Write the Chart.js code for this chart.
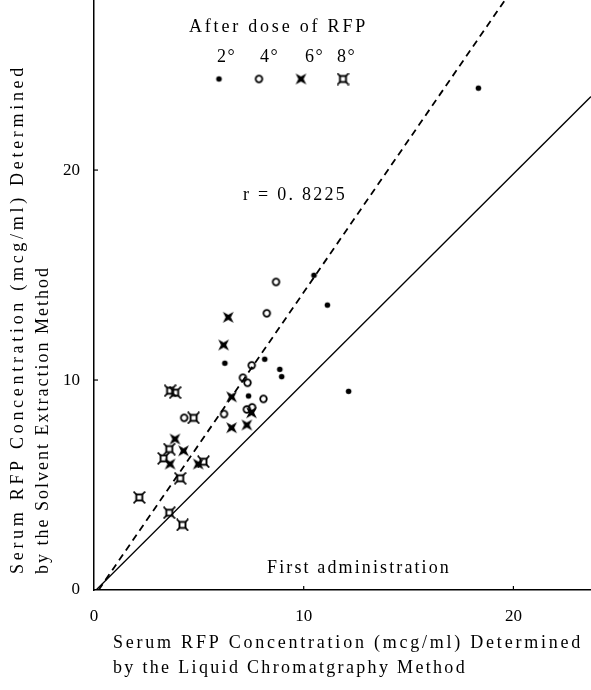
<!DOCTYPE html>
<html>
<head>
<meta charset="utf-8">
<script src="https://cdn.jsdelivr.net/npm/chart.js@4/dist/chart.umd.min.js"></script>
<style>
  body { margin: 0; background: #fff; }
  canvas { display: block; }
</style>
</head>
<body>
<canvas id="grafico" width="591" height="690"></canvas>
<script>
// valori
const dose2X = [18.33, 10.49, 11.13, 6.24, 8.14, 8.86, 8.95, 7.37, 12.14];
const dose2Y = [23.9, 14.99, 13.57, 10.8, 10.99, 10.51, 10.16, 9.24, 9.46];
const dose4X = [8.68, 8.24, 7.52, 7.10, 7.32, 8.08, 7.29, 7.54, 6.2, 4.3];
const dose4Y = [14.67, 13.18, 10.7, 10.11, 9.87, 9.1, 8.6, 8.7, 8.38, 8.2];
const dose6X = [6.4, 6.18, 6.56, 7.51, 6.56, 7.29, 3.86, 4.27, 3.63, 4.97];
const dose6Y = [12.99, 11.67, 9.2, 8.44, 7.73, 7.86, 7.19, 6.63, 6.0, 6.0];
const dose8X = [3.63, 3.87, 4.75, 3.59, 3.32, 5.22, 4.11, 2.16, 3.59, 4.22];
const dose8Y = [9.49, 9.4, 8.2, 6.71, 6.27, 6.11, 5.32, 4.41, 3.68, 3.1];
const lineaX = [0.1, 23.7];
const lineaY = [0, 23.5];
const regrX = [0.22, 19.6];
const regrY = [0, 28.1];
const xTicks = [0, 10, 20];
const yTicks = [0, 10, 20];
const doseLabels = ['2°', '4°', '6°', '8°'];

const FONT = '"Liberation Serif", "DejaVu Serif", serif';

function punti(xs, ys) {
  return xs.map((x, i) => ({ x: x, y: ys[i] }));
}

// simboli disegnati a mano
function marker(tipo) {
  const c = document.createElement('canvas');
  c.width = 13; c.height = 13;
  const g = c.getContext('2d');
  const m = 6.5;
  g.fillStyle = '#000';
  g.strokeStyle = '#000';
  if (tipo === 'dot') {
    g.beginPath(); g.arc(m, m, 2.8, 0, Math.PI * 2); g.fill();
  } else if (tipo === 'circle') {
    g.lineWidth = 1.8;
    g.beginPath(); g.arc(m, m, 3.3, 0, Math.PI * 2); g.stroke();
  } else if (tipo === 'star') {
    const t = 5.4, k = 2.6;
    g.beginPath();
    g.moveTo(m - t, m - t); g.lineTo(m, m - k);
    g.lineTo(m + t, m - t); g.lineTo(m + k, m);
    g.lineTo(m + t, m + t); g.lineTo(m, m + k);
    g.lineTo(m - t, m + t); g.lineTo(m - k, m);
    g.closePath(); g.fill();
  } else {
    g.lineWidth = 1.9;
    g.strokeRect(m - 3, m - 3, 6, 6);
    g.lineWidth = 1.7;
    [[-1, -1], [1, -1], [1, 1], [-1, 1]].forEach(([dx, dy]) => {
      g.beginPath();
      g.moveTo(m + dx * 3, m + dy * 3);
      g.lineTo(m + dx * 5.8, m + dy * 5.8);
      g.stroke();
    });
  }
  return c;
}

const simboli = [marker('dot'), marker('circle'), marker('star'), marker('square')];

function serie(xs, ys, sym) {
  return {
    data: punti(xs, ys),
    pointStyle: sym,
    pointRadius: 6,
    showLine: false
  };
}

function testo(ctx, s, x, y, larghezza) {
  ctx.letterSpacing = '0px';
  const w = ctx.measureText(s).width;
  const ls = larghezza ? (larghezza - w) / s.length : 0;
  ctx.letterSpacing = ls + 'px';
  ctx.fillText(s, x, y);
  ctx.letterSpacing = '0px';
}

const testiPlugin = {
  id: 'testi',
  afterDraw(chart) {
    const ctx = chart.ctx;
    const xs = chart.scales.x, ys = chart.scales.y;
    ctx.save();
    ctx.fillStyle = '#000';
    ctx.strokeStyle = '#000';
    ctx.textBaseline = 'middle';
    ctx.textAlign = 'left';
    ctx.font = '18px ' + FONT;

    // tacche interne
    ctx.lineWidth = 1.2;
    xTicks.slice(1).forEach(v => {
      const p = xs.getPixelForValue(v);
      ctx.beginPath(); ctx.moveTo(p, ys.bottom); ctx.lineTo(p, ys.bottom - 4); ctx.stroke();
    });
    yTicks.slice(1).forEach(v => {
      const p = ys.getPixelForValue(v);
      ctx.beginPath(); ctx.moveTo(xs.left, p); ctx.lineTo(xs.left + 4, p); ctx.stroke();
    });

    // legenda
    testo(ctx, 'After dose of RFP', 189, 27, 179);
    const labX = [217, 260, 305, 337];
    const symX = [219, 259, 301, 343];
    doseLabels.forEach((l, i) => {
      testo(ctx, l, labX[i], 57, 19);
      ctx.drawImage(simboli[i], symX[i] - 6.5, 79 - 6.5);
    });

    testo(ctx, 'r = 0. 8225', 243, 195, 104);
    testo(ctx, 'First administration', 267, 568, 184);

    // titoli assi
    testo(ctx, 'Serum RFP Concentration (mcg/ml) Determined', 113, 643, 470);
    testo(ctx, 'by the Liquid Chromatgraphy Method', 113, 668, 354);

    ctx.save();
    ctx.translate(18, 574);
    ctx.rotate(-Math.PI / 2);
    testo(ctx, 'Serum RFP Concentration (mcg/ml) Determined', 0, 0, 510);
    ctx.restore();
    ctx.save();
    ctx.translate(43, 574);
    ctx.rotate(-Math.PI / 2);
    testo(ctx, 'by the Solvent Extraction Method', 0, 0, 308);
    ctx.restore();

    ctx.restore();
  }
};

const ctx = document.getElementById('grafico').getContext('2d');

const chart = new Chart(ctx, {
  type: 'scatter',
  data: {
    datasets: [
      {
        data: punti(lineaX, lineaY),
        showLine: true,
        borderColor: '#000',
        borderWidth: 1.3,
        pointRadius: 0
      },
      {
        data: punti(regrX, regrY),
        showLine: true,
        borderColor: '#000',
        borderWidth: 1.8,
        borderDash: [7, 5],
        pointRadius: 0
      },
      serie(dose2X, dose2Y, simboli[0]),
      serie(dose4X, dose4Y, simboli[1]),
      serie(dose6X, dose6Y, simboli[2]),
      serie(dose8X, dose8Y, simboli[3])
    ]
  },
  options: {
    responsive: false,
    devicePixelRatio: 1,
    animation: false,
    layout: { padding: 0, autoPadding: false },
    scales: {
      x: {
        type: 'linear',
        min: 0,
        max: 23.7,
        afterBuildTicks: s => { s.ticks = xTicks.map(v => ({ value: v })); },
        afterFit: s => { s.height = 100; s.paddingLeft = 0; s.paddingRight = 0; },
        grid: { display: false, drawTicks: false },
        border: { display: true, color: '#000', width: 1.5 },
        ticks: {
          color: '#000',
          padding: 16,
          maxRotation: 0,
          font: { family: FONT, size: 17 }
        }
      },
      y: {
        type: 'linear',
        min: 0,
        max: 28.1,
        afterBuildTicks: s => { s.ticks = yTicks.map(v => ({ value: v })); },
        afterFit: s => { s.width = 94; s.paddingTop = 0; s.paddingBottom = 0; },
        grid: { display: false, drawTicks: false },
        border: { display: true, color: '#000', width: 1.5 },
        ticks: {
          color: '#000',
          padding: 14,
          font: { family: FONT, size: 17 }
        }
      }
    },
    plugins: {
      legend: { display: false },
      tooltip: { enabled: false }
    }
  },
  plugins: [testiPlugin]
});
</script>
</body>
</html>
